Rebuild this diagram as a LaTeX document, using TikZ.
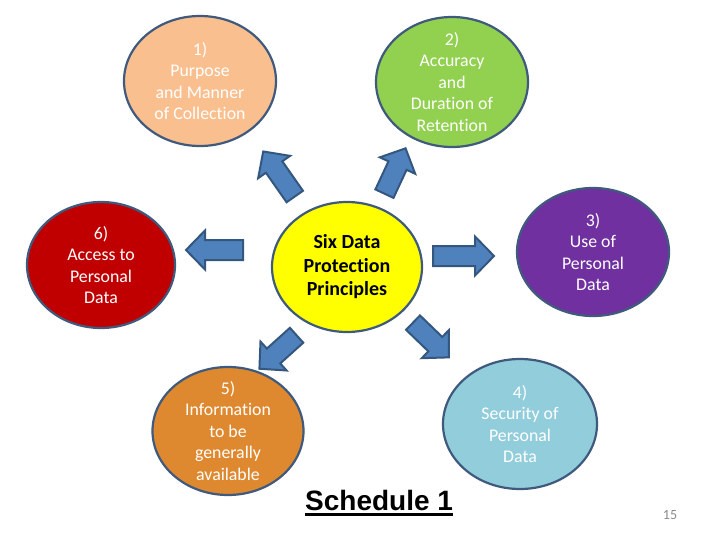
\documentclass[tikz,border=0pt]{standalone}
\usepackage{fontspec}
\setmainfont[Ligatures={NoCommon}]{Carlito}
\newfontfamily\arialfont{Liberation Sans}
\usetikzlibrary{shapes.geometric}
\definecolor{peach}{HTML}{FABF8F}
\definecolor{lgreen}{HTML}{92D050}
\definecolor{dred}{HTML}{C00000}
\definecolor{yel}{HTML}{FFFF00}
\definecolor{purp}{HTML}{7030A0}
\definecolor{orng}{HTML}{DE8930}
\definecolor{lblue}{HTML}{92CDDC}
\definecolor{edgeblue}{HTML}{3F5A7D}
\definecolor{arrowblue}{HTML}{4F81BD}
\definecolor{arrowedge}{HTML}{34577F}
\definecolor{pagegray}{HTML}{8A8A8A}
\tikzset{
  bubble/.style={ellipse, draw=edgeblue, line width=2.2pt, inner sep=0pt},
  btext/.style={text=white, align=center, font=\fontsize{17.8}{21.5}\selectfont},
  barrowfill/.style={fill=arrowblue, draw=arrowedge, line width=2pt, line join=miter},
  pics/blockarrow/.style={code={
    \path[barrowfill] (-#1/2,-10) -- (#1/2-19,-10) -- (#1/2-19,-19.5) -- (#1/2,0)
      -- (#1/2-19,19.5) -- (#1/2-19,10) -- (-#1/2,10) -- cycle;}}
}
\begin{document}
\begin{tikzpicture}[x=1pt,y=-1pt]
\useasboundingbox (0,0) rectangle (720,540);
% bubbles
\node[bubble, fill=peach, minimum width=152, minimum height=130] (p1) at (200,81) {};
\node[btext] at (p1) {1)\\Purpose\\and Manner\\of Collection};
\node[bubble, fill=lgreen, minimum width=152, minimum height=130] (p2) at (452,82) {};
\node[btext] at (p2) {2)\\Accuracy\\and\\Duration of\\Retention};
\node[bubble, fill=purp, minimum width=152, minimum height=128] (p3) at (593,252) {};
\node[btext] at (p3) {3)\\Use of\\Personal\\Data};
\node[bubble, fill=lblue, minimum width=154, minimum height=130] (p4) at (520,424) {};
\node[btext] at (p4) {4)\\Security of\\Personal\\Data};
\node[bubble, fill=orng, minimum width=151, minimum height=128] (p5) at (228,431) {};
\node[btext] at (p5) {5)\\Information\\to be\\generally\\available};
\node[bubble, fill=dred, minimum width=148, minimum height=126] (p6) at (101,265) {};
\node[btext] at (p6) {6)\\Access to\\Personal\\Data};
\node[bubble, fill=yel, minimum width=150, minimum height=130] (c) at (347,267) {};
\node[align=center, font=\bfseries\fontsize{20}{23.5}\selectfont] at (c) {Six Data\\Protection\\Principles};
% block arrows
\pic[rotate=125] at (279,174) {blockarrow=55};
\pic[rotate=65] at (395,171) {blockarrow=50};
\pic[rotate=0] at (463.5,256) {blockarrow=61};
\pic[rotate=-44] at (431,340) {blockarrow=50};
\pic[rotate=222] at (278,352) {blockarrow=50};
\pic[rotate=180] at (214.5,250) {blockarrow=57};
% title
\node[inner sep=0pt, anchor=base west, font=\arialfont\bfseries\fontsize{28}{32}\selectfont] (sched) at (305,510) {Schedule 1};
\draw[line width=2.4pt] ([yshift=-4.5pt]sched.base west) -- ([yshift=-4.5pt]sched.base east);
\node[text=pagegray, font=\fontsize{14}{16}\selectfont] (pg) at (670,515) {15};
\end{tikzpicture}
\end{document}
